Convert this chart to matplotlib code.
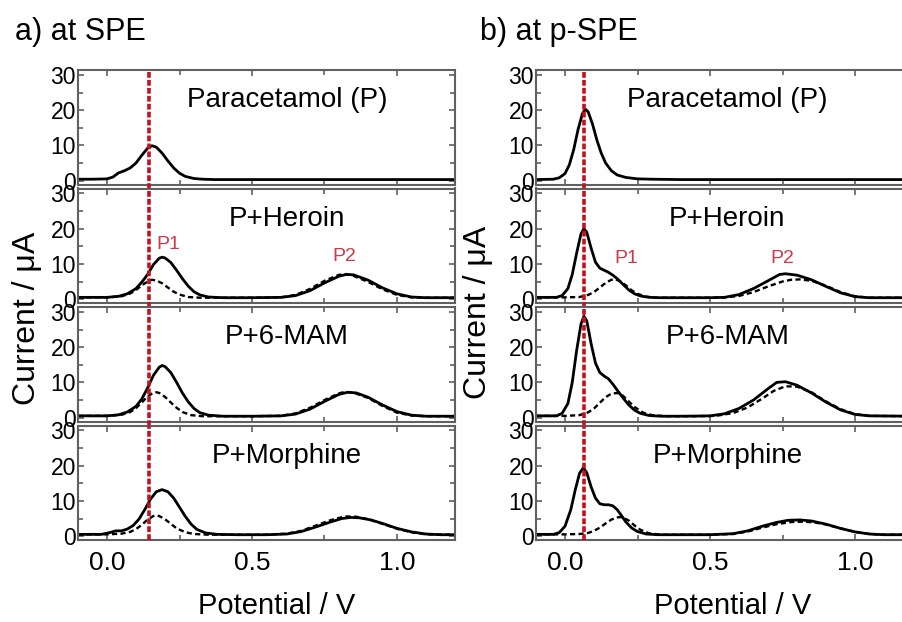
import numpy as np
import matplotlib
matplotlib.use("Agg")
import matplotlib.pyplot as plt
from matplotlib.ticker import MultipleLocator

plt.rcParams['font.family'] = ['Liberation Sans', 'DejaVu Sans']

# ---- data (potential in V, current in uA) ----
# a) SPE
spe_para_v = [-0.1, -0.05, 0.0, 0.02, 0.04, 0.06, 0.08, 0.1, 0.12, 0.14, 0.155, 0.17, 0.19, 0.21, 0.23,
              0.25, 0.27, 0.3, 0.33, 0.37, 0.45, 0.6, 0.8, 1.0, 1.2]
spe_para_i = [0.4, 0.4, 0.5, 1.0, 2.2, 2.8, 3.6, 5.0, 7.2, 9.2, 9.9, 9.5, 7.8, 5.6, 3.6,
              2.1, 1.2, 0.6, 0.4, 0.3, 0.3, 0.3, 0.3, 0.3, 0.3]

spe_her_v = [-0.1, 0.0, 0.04, 0.07, 0.1, 0.12, 0.14, 0.16, 0.18, 0.19, 0.2, 0.22, 0.24, 0.26, 0.28, 0.3,
             0.32, 0.35, 0.4, 0.5, 0.6, 0.65, 0.7, 0.75, 0.8, 0.825, 0.85, 0.9, 0.95, 1.0, 1.05, 1.1, 1.2]
spe_her_i = [0.5, 0.5, 0.8, 1.5, 3.0, 4.8, 7.0, 9.8, 11.6, 11.9, 11.7, 10.4, 8.2, 5.8, 3.7, 2.1,
             1.2, 0.6, 0.4, 0.4, 0.5, 1.0, 2.4, 4.6, 6.5, 7.0, 6.9, 5.4, 3.2, 1.5, 0.6, 0.4, 0.4]
spe_her_dv = [-0.1, 0.0, 0.05, 0.08, 0.1, 0.12, 0.14, 0.155, 0.17, 0.19, 0.21, 0.23, 0.25, 0.28, 0.32,
              0.4, 0.5, 0.6, 0.65, 0.7, 0.75, 0.8, 0.825, 0.85, 0.9, 0.95, 1.0, 1.05, 1.1, 1.2]
spe_her_di = [0.5, 0.5, 0.8, 1.6, 2.6, 3.9, 5.0, 5.5, 5.3, 4.5, 3.3, 2.1, 1.3, 0.6, 0.4,
              0.4, 0.4, 0.5, 1.2, 2.9, 5.2, 6.9, 7.1, 6.6, 4.9, 2.8, 1.2, 0.5, 0.4, 0.4]

spe_mam_v = [-0.1, 0.0, 0.04, 0.07, 0.1, 0.12, 0.14, 0.16, 0.18, 0.19, 0.2, 0.22, 0.24, 0.26, 0.28, 0.3,
             0.32, 0.35, 0.4, 0.5, 0.6, 0.65, 0.7, 0.75, 0.8, 0.83, 0.86, 0.9, 0.95, 1.0, 1.05, 1.1, 1.2]
spe_mam_i = [0.5, 0.5, 0.8, 1.6, 3.2, 5.3, 8.4, 12.0, 14.3, 14.8, 14.5, 12.8, 10.0, 7.0, 4.5, 2.6,
             1.4, 0.7, 0.4, 0.4, 0.5, 1.0, 2.4, 4.6, 6.6, 7.2, 7.0, 5.8, 3.6, 1.7, 0.7, 0.4, 0.4]
spe_mam_dv = [-0.1, 0.0, 0.05, 0.08, 0.1, 0.12, 0.14, 0.16, 0.17, 0.18, 0.2, 0.22, 0.24, 0.26, 0.29, 0.33,
              0.4, 0.5, 0.6, 0.65, 0.7, 0.75, 0.8, 0.82, 0.85, 0.9, 0.95, 1.0, 1.05, 1.1, 1.2]
spe_mam_di = [0.5, 0.5, 0.8, 1.6, 2.7, 4.3, 6.0, 7.1, 7.2, 7.0, 5.9, 4.3, 2.8, 1.6, 0.7, 0.4,
              0.4, 0.4, 0.5, 1.2, 2.8, 5.0, 6.9, 7.3, 7.1, 5.6, 3.3, 1.4, 0.6, 0.4, 0.4]

spe_mor_v = [-0.1, -0.02, 0.01, 0.03, 0.05, 0.07, 0.09, 0.11, 0.13, 0.15, 0.17, 0.19, 0.21, 0.23, 0.25,
             0.27, 0.29, 0.31, 0.34, 0.38, 0.45, 0.55, 0.62, 0.67, 0.72, 0.77, 0.81, 0.84, 0.87, 0.91,
             0.95, 1.0, 1.05, 1.1, 1.15, 1.2]
spe_mor_i = [0.5, 0.5, 1.0, 1.5, 1.5, 2.0, 3.0, 4.8, 7.5, 10.5, 12.6, 13.2, 12.6, 10.8, 8.2,
             5.6, 3.4, 1.9, 0.9, 0.5, 0.4, 0.4, 0.6, 1.3, 2.6, 4.0, 5.0, 5.3, 5.2, 4.6,
             3.6, 2.2, 1.2, 0.6, 0.4, 0.4]
spe_mor_dv = [-0.1, 0.0, 0.05, 0.08, 0.1, 0.12, 0.14, 0.16, 0.17, 0.18, 0.2, 0.22, 0.24, 0.27, 0.3,
              0.35, 0.45, 0.55, 0.62, 0.67, 0.72, 0.77, 0.82, 0.86, 0.9, 0.95, 1.0, 1.05, 1.1, 1.2]
spe_mor_di = [0.5, 0.5, 0.7, 1.2, 2.0, 3.2, 4.7, 5.7, 5.9, 5.7, 4.8, 3.5, 2.2, 1.1, 0.6,
              0.4, 0.4, 0.4, 0.7, 1.5, 3.0, 4.5, 5.6, 5.5, 4.8, 3.5, 2.1, 1.1, 0.5, 0.4]

# b) p-SPE
pspe_para_v = [-0.1, -0.04, -0.02, 0.0, 0.015, 0.03, 0.045, 0.06, 0.07, 0.08, 0.095, 0.11, 0.125, 0.14,
               0.16, 0.18, 0.21, 0.25, 0.3, 0.4, 0.6, 0.8, 1.0, 1.2]
pspe_para_i = [0.3, 0.4, 0.8, 2.0, 4.5, 8.8, 14.5, 19.0, 20.3, 19.5, 16.0, 11.5, 7.8, 5.0,
               2.8, 1.6, 0.9, 0.5, 0.4, 0.3, 0.3, 0.3, 0.3, 0.3]

pspe_her_v = [-0.1, -0.03, -0.01, 0.01, 0.025, 0.04, 0.055, 0.065, 0.075, 0.09, 0.105, 0.12, 0.135, 0.15,
              0.165, 0.18, 0.2, 0.22, 0.24, 0.26, 0.29, 0.33, 0.4, 0.5, 0.55, 0.6, 0.65, 0.7, 0.74,
              0.76, 0.8, 0.85, 0.9, 0.95, 1.0, 1.05, 1.2]
pspe_her_i = [0.5, 0.5, 1.0, 3.0, 7.0, 13.0, 18.5, 20.0, 19.0, 14.5, 10.5, 8.8, 8.2, 7.6,
              6.8, 5.8, 4.2, 2.6, 1.5, 0.9, 0.5, 0.4, 0.4, 0.4, 0.5, 1.3, 3.0, 5.2, 7.0,
              7.2, 6.8, 5.5, 3.6, 1.8, 0.7, 0.4, 0.4]
pspe_her_dv = [-0.1, 0.0, 0.05, 0.08, 0.1, 0.12, 0.14, 0.16, 0.175, 0.19, 0.21, 0.23, 0.25, 0.28, 0.32,
               0.4, 0.5, 0.55, 0.6, 0.65, 0.7, 0.75, 0.78, 0.81, 0.85, 0.9, 0.95, 1.0, 1.05, 1.2]
pspe_her_di = [0.5, 0.5, 0.6, 1.2, 2.0, 3.3, 4.6, 5.5, 5.6, 5.1, 3.9, 2.5, 1.5, 0.7, 0.4,
               0.4, 0.4, 0.5, 0.9, 2.0, 3.6, 5.0, 5.5, 5.6, 5.2, 3.8, 2.0, 0.8, 0.4, 0.4]

pspe_mam_v = [-0.1, -0.03, -0.01, 0.01, 0.025, 0.04, 0.055, 0.065, 0.075, 0.09, 0.105, 0.12, 0.135, 0.15,
              0.165, 0.18, 0.2, 0.22, 0.24, 0.26, 0.29, 0.33, 0.4, 0.5, 0.55, 0.6, 0.65, 0.7, 0.73,
              0.76, 0.8, 0.85, 0.9, 0.95, 1.0, 1.05, 1.2]
pspe_mam_i = [0.5, 0.5, 1.2, 4.0, 10.0, 19.0, 26.5, 28.8, 27.5, 21.0, 15.5, 12.8, 11.8, 11.0,
              9.5, 7.8, 5.6, 3.6, 2.1, 1.2, 0.6, 0.4, 0.4, 0.5, 1.1, 2.6, 5.0, 8.2, 10.0,
              10.2, 9.2, 7.0, 4.4, 2.2, 0.9, 0.5, 0.4]
pspe_mam_dv = [-0.1, 0.0, 0.05, 0.08, 0.1, 0.12, 0.14, 0.16, 0.18, 0.2, 0.22, 0.24, 0.27, 0.3, 0.35,
               0.45, 0.52, 0.58, 0.63, 0.68, 0.72, 0.76, 0.8, 0.85, 0.9, 0.95, 1.0, 1.05, 1.2]
pspe_mam_di = [0.5, 0.5, 0.7, 1.5, 2.6, 4.2, 5.8, 6.8, 7.0, 6.2, 4.6, 3.0, 1.4, 0.7, 0.4,
               0.4, 0.5, 1.3, 2.9, 5.4, 7.6, 8.9, 8.8, 7.2, 4.6, 2.4, 1.0, 0.5, 0.4]

pspe_mor_v = [-0.1, -0.04, -0.02, 0.0, 0.02, 0.035, 0.05, 0.063, 0.075, 0.09, 0.105, 0.12, 0.135, 0.15,
              0.165, 0.18, 0.195, 0.21, 0.23, 0.25, 0.28, 0.32, 0.4, 0.5, 0.58, 0.63, 0.68, 0.73,
              0.77, 0.81, 0.85, 0.9, 0.95, 1.0, 1.05, 1.1, 1.2]
pspe_mor_i = [0.5, 0.5, 1.0, 2.8, 7.5, 13.0, 17.8, 19.4, 18.0, 14.0, 10.8, 9.2, 8.9, 8.9,
              8.6, 7.5, 5.8, 4.0, 2.3, 1.3, 0.6, 0.4, 0.4, 0.4, 0.7, 1.5, 2.8, 3.9,
              4.5, 4.6, 4.3, 3.4, 2.2, 1.2, 0.6, 0.4, 0.4]
pspe_mor_dv = [-0.1, 0.0, 0.05, 0.08, 0.1, 0.12, 0.14, 0.16, 0.18, 0.19, 0.2, 0.22, 0.24, 0.26, 0.29,
               0.33, 0.4, 0.5, 0.58, 0.63, 0.68, 0.73, 0.78, 0.82, 0.86, 0.9, 0.95, 1.0, 1.05, 1.1, 1.2]
pspe_mor_di = [0.5, 0.5, 0.6, 0.9, 1.5, 2.4, 3.6, 4.7, 5.3, 5.4, 5.3, 4.4, 3.0, 1.8, 0.8,
               0.4, 0.4, 0.4, 0.6, 1.3, 2.4, 3.4, 4.0, 4.1, 3.9, 3.3, 2.2, 1.2, 0.6, 0.4, 0.4]

panel_names = ["Paracetamol (P)", "P+Heroin", "P+6-MAM", "P+Morphine"]

columns = [
    dict(title="a) at SPE", left=78, ref_v=0.145, name_x=0.62,
         peaks=[(0.21, 15.6, "P1"), (0.82, 12.2, "P2")],
         curves=[(spe_para_v, spe_para_i, None, None),
                 (spe_her_v, spe_her_i, spe_her_dv, spe_her_di),
                 (spe_mam_v, spe_mam_i, spe_mam_dv, spe_mam_di),
                 (spe_mor_v, spe_mor_i, spe_mor_dv, spe_mor_di)]),
    dict(title="b) at p-SPE", left=536, ref_v=0.066, name_x=0.56,
         peaks=[(0.21, 11.6, "P1"), (0.75, 11.6, "P2")],
         curves=[(pspe_para_v, pspe_para_i, None, None),
                 (pspe_her_v, pspe_her_i, pspe_her_dv, pspe_her_di),
                 (pspe_mam_v, pspe_mam_i, pspe_mam_dv, pspe_mam_di),
                 (pspe_mor_v, pspe_mor_i, pspe_mor_dv, pspe_mor_di)]),
]

W, H = 902, 622
fig = plt.figure(figsize=(W / 100, H / 100), dpi=100)

spine_col = "#606060"
red = "#c41020"
panel_top = 70
panel_h = 114.5
panel_gap = 4
col_w = 377

for col in columns:
    for k in range(4):
        top = panel_top + k * (panel_h + panel_gap)
        ax = fig.add_axes([col["left"] / W, 1 - (top + panel_h) / H, col_w / W, panel_h / H])
        v, i, dv, di = col["curves"][k]
        if dv is not None:
            ax.plot(dv, di, color="black", lw=1.7, ls=(0, (2.2, 1.4)))
        ax.plot(v, i, color="black", lw=2.0)
        ax.axvline(col["ref_v"], ymin=-0.04 if k < 3 else 0, ymax=1, color=red, lw=2.6,
                   ls=(0, (1.6, 0.6)), clip_on=False, zorder=5)
        ax.text(col["name_x"], 22.8, panel_names[k], fontsize=20, ha="center", va="center")
        if k == 1:
            for px, py, lab in col["peaks"]:
                ax.text(px, py, lab, fontsize=14, color="#d03848", ha="center", va="center")

        ax.set_xlim(-0.1, 1.2)
        ax.set_ylim(-1.1, 31.4)
        ax.xaxis.set_major_locator(MultipleLocator(0.5))
        ax.xaxis.set_minor_locator(MultipleLocator(0.25))
        ax.yaxis.set_major_locator(MultipleLocator(10))
        ax.yaxis.set_minor_locator(MultipleLocator(5))
        ax.tick_params(which="both", direction="in", top=True, right=True, color=spine_col, width=1.2)
        ax.tick_params(which="major", length=4.5)
        ax.tick_params(which="minor", length=3.5)
        ax.tick_params(axis="y", labelsize=16.5, pad=1.5)
        ax.tick_params(axis="x", labelsize=19, pad=8)
        if k < 3:
            ax.tick_params(axis="x", labelbottom=False)
        for s in ax.spines.values():
            s.set_color(spine_col)
            s.set_linewidth(1.5)

fig.text(15 / W, 1 - 40 / H, "a) at SPE", fontsize=22, ha="left", va="baseline")
fig.text(480 / W, 1 - 40 / H, "b) at p-SPE", fontsize=22, ha="left", va="baseline")
fig.text(27 / W, 1 - 318 / H, "Current / μA", fontsize=23, rotation=90, ha="center", va="center")
fig.text(478 / W, 1 - 312 / H, "Current / μA", fontsize=23, rotation=90, ha="center", va="center")
fig.text(277 / W, 1 - 614 / H, "Potential / V", fontsize=21, ha="center", va="baseline")
fig.text(733 / W, 1 - 614 / H, "Potential / V", fontsize=21, ha="center", va="baseline")

fig.savefig("out.png", dpi=100)
